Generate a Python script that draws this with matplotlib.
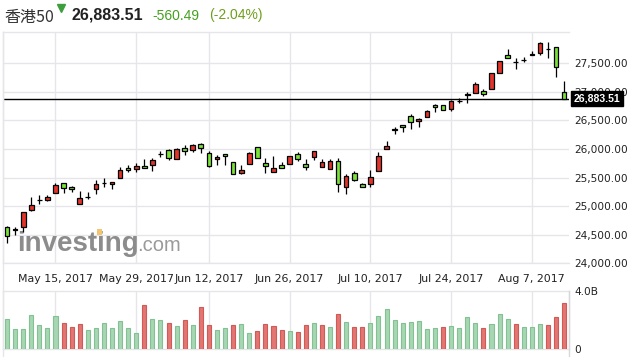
import matplotlib
matplotlib.use("Agg")
import matplotlib.pyplot as plt
import matplotlib.transforms as mtransforms
from matplotlib.lines import Line2D
from matplotlib.patches import Rectangle
from matplotlib.ticker import FuncFormatter

# ---------------- data (HSI daily, 5 May 2017 - 11 Aug 2017) ----------------
opens = [24630, 24590, 24641, 24926, 25100, 25105,
         25226, 25410, 25341, 25034, 25163, 25306, 25400, 25385, 25497, 25666, 25654, 25706,
         25725, 25912, 25976, 25819, 26016, 25976, 26085, 25934, 25819, 25911, 25767, 25586,
         25732, 26028, 25749, 25593, 25715, 25732, 25906, 25732, 25864, 25680, 25645, 25784,
         25343, 25581, 25384, 25384,
         25614, 25997, 26340, 26414, 26571, 26484, 26553,
         26771, 26771, 26702, 26842, 26952, 26985, 27015, 27044,
         27327, 27640, 27524, 27558, 27645, 27675, 27745, 27779, 26992]
highs = [24653, 24630, 24902, 25152, 25204, 25204,
         25400, 25412, 25358, 25266, 25254, 25457, 25487, 25430, 25678, 25718, 25747, 25822,
         25836, 25969, 25998, 26021, 26068, 26085, 26097, 25969, 25889, 25911, 25767, 25720,
         25946, 26028, 25836, 25876, 25767, 25871, 25941, 25824, 25958, 25819, 25819, 25836,
         25563, 25610, 25400, 25628,
         25945, 26141, 26380, 26414, 26611, 26536, 26680,
         26784, 26771, 26864, 26893, 26997, 27177, 27050, 27323,
         27541, 27749, 27593, 27615, 27720, 27876, 27866, 27779, 27190]
lows = [24363, 24502, 24549, 24920, 25030, 25088,
        25226, 25236, 25254, 25034, 25127, 25208, 25330, 25306, 25497, 25601, 25591, 25661,
        25621, 25864, 25812, 25819, 25894, 25941, 25934, 25690, 25720, 25725, 25558, 25569,
        25732, 25836, 25586, 25593, 25663, 25732, 25795, 25638, 25807, 25680, 25645, 25256,
        25210, 25447, 25332, 25343,
        25614, 25997, 26268, 26303, 26355, 26390, 26553,
        26644, 26679, 26672, 26811, 26801, 26975, 26933, 27044,
        27327, 27588, 27407, 27518, 27645, 27645, 27598, 27268, 26883]
closes = [24479, 24596, 24897, 25018, 25105, 25152,
          25370, 25323, 25295, 25139, 25167, 25382, 25408, 25425, 25626, 25639, 25706, 25661,
          25802, 25916, 25847, 25998, 25969, 26068, 26021, 25697, 25859, 25871, 25558, 25628,
          25923, 25836, 25697, 25673, 25663, 25871, 25829, 25680, 25958, 25767, 25784, 25384,
          25529, 25464, 25332, 25511,
          25875, 26049, 26345, 26380, 26467, 26519, 26658,
          26731, 26690, 26836, 26846, 26957, 27137, 26968, 27323,
          27541, 27598, 27528, 27563, 27670, 27854, 27749, 27444, 26883.51]
volumes_b = [2.08, 1.39, 1.39, 2.35, 1.67, 1.46, 2.28, 1.80, 1.53, 1.74,
             1.33, 1.46, 1.80, 1.46, 1.94, 1.46, 1.12, 3.04, 2.08, 2.01,
             1.80, 1.60, 2.01, 1.67, 2.90, 1.67, 1.33, 1.46, 1.67, 1.74,
             1.12, 1.26, 1.74, 1.60, 1.33, 1.26, 1.19, 1.67, 1.80, 1.67,
             1.53, 2.42, 1.87, 1.53, 1.53, 1.80, 2.28, 2.76, 2.01, 1.80,
             1.87, 1.94, 1.39, 1.46, 1.53, 1.60, 1.46, 2.21, 1.80, 1.46,
             1.74, 2.42, 2.08, 1.74, 1.53, 1.53, 1.74, 1.67, 2.21, 3.18]
vol_up = [1, 1, 1, 1, 1, 1, 1, 0, 0, 0,
          1, 1, 1, 1, 1, 1, 1, 0, 1, 1,
          0, 1, 0, 1, 0, 0, 1, 1, 0, 1,
          1, 0, 0, 0, 0, 1, 0, 0, 1, 0,
          1, 0, 1, 0, 0, 1, 1, 1, 1, 1,
          1, 1, 1, 1, 0, 1, 1, 1, 1, 0,
          1, 1, 1, 0, 1, 1, 1, 0, 0, 0]
date_tick_idx = [6, 16, 25, 35, 45, 55, 65]
date_tick_labels = ["May 15, 2017", "May 29, 2017", "Jun 12, 2017", "Jun 26, 2017",
                    "Jul 10, 2017", "Jul 24, 2017", "Aug 7, 2017"]
price_ticks = [24000, 24500, 25000, 25500, 26000, 26500, 27000, 27500]
vol_ticks = [0, 4.0]
vol_tick_labels = ["0", "4.0B"]
last_price = 26883.51
title_name = "香港50"
title_price = "26,883.51"
title_change = "-560.49"
title_pct = "(-2.04%)"

# ---------------- styling ----------------
W, H = 627, 357
RED = "#e3342c"
GREEN = "#7be23a"
VGREEN, VGREEN_E = "#a6d6b2", "#82c292"
VRED, VRED_E = "#e27672", "#d25a56"
GRID = "#e6e6ea"
TXT = "#222222"

def fx(x):
    return x / W

def fy(y):
    return 1 - y / H

fig = plt.figure(figsize=(W / 100, H / 100), dpi=100)
fig.patch.set_facecolor("white")

left_px, right_px = 3, 569
top_px, pbot_px = 31.7, 263.3
vtop_px, vbot_px = 291.0, 349.3

ax = fig.add_axes([fx(left_px), fy(pbot_px), (right_px - left_px) / W, (pbot_px - top_px) / H])
axv = fig.add_axes([fx(left_px), fy(vbot_px), (right_px - left_px) / W, (vbot_px - vtop_px) / H])

n = len(closes)
xs = list(range(n))
xlim = (-0.5, 69.6)

# ---------------- price panel ----------------
ax.set_xlim(*xlim)
ax.set_ylim(24000, 28053)
ax.vlines(xs, lows, highs, color="black", lw=0.9, zorder=3)
body_bottom = [min(o, c) for o, c in zip(opens, closes)]
body_h = [max(abs(c - o), 4) for o, c in zip(opens, closes)]
body_col = [RED if c > o else GREEN for o, c in zip(opens, closes)]
ax.bar(xs, body_h, bottom=body_bottom, width=0.58, color=body_col,
       edgecolor="black", linewidth=0.9, zorder=4)
ax.axhline(last_price, color="black", lw=1.0, zorder=2)

ax.set_yticks(price_ticks)
ax.yaxis.tick_right()
ax.yaxis.set_major_formatter(FuncFormatter(lambda v, p: f"{v:,.2f}"))
ax.tick_params(axis="y", length=0, pad=3.6, labelsize=7.6, labelcolor=TXT)
ax.set_xticks(date_tick_idx)
ax.set_xticklabels(date_tick_labels)
ax.tick_params(axis="x", length=0, pad=8, labelsize=7.9, labelcolor=TXT)
ax.grid(True, color=GRID, lw=1.0, zorder=0)
ax.set_axisbelow(True)
for s in ["left", "top", "bottom"]:
    ax.spines[s].set_color(GRID)
    ax.spines[s].set_linewidth(1.0)
ax.spines["right"].set_visible(False)

# last price tag (covers the 27,000.00 label partly, as in the original)
trans = mtransforms.blended_transform_factory(ax.transAxes, ax.transData)
ax.text(1.0085, last_price, title_price, transform=trans, ha="left", va="center",
        color="white", fontsize=7.6, fontweight="bold", family="Liberation Sans",
        bbox=dict(boxstyle="square,pad=0.22", fc="black", ec="black"), zorder=10, clip_on=False)

# watermark
ax.text((17 - left_px) / (right_px - left_px), 0.055, "investing", transform=ax.transAxes,
        fontsize=20, fontweight="bold", color="#8c8c8c", family="Liberation Sans",
        ha="left", va="baseline", zorder=1)
ax.text((137.5 - left_px) / (right_px - left_px), 0.055, ".com", transform=ax.transAxes,
        fontsize=14.5, color="#9a9a9a", family="Liberation Sans",
        ha="left", va="baseline", zorder=1)
fig.add_artist(Rectangle((fx(96.5), fy(234.5)), 5.5 / W, 5.5 / H, transform=fig.transFigure,
                         facecolor="#f4c56f", edgecolor="none", zorder=2))

# ---------------- volume panel ----------------
axv.set_xlim(*xlim)
axv.set_ylim(0, 4.0)
vcols = [VGREEN if u else VRED for u in vol_up]
vedges = [VGREEN_E if u else VRED_E for u in vol_up]
axv.bar(xs, volumes_b, width=0.5, color=vcols, edgecolor=vedges, linewidth=0.8, zorder=3)
axv.set_xticks(date_tick_idx)
axv.set_xticklabels([])
axv.tick_params(axis="x", length=0)
axv.set_yticks(vol_ticks)
axv.set_yticklabels(vol_tick_labels)
axv.yaxis.tick_right()
axv.tick_params(axis="y", length=0, pad=3.6, labelsize=7.6, labelcolor=TXT)
axv.grid(True, axis="x", color=GRID, lw=1.0, zorder=0)
axv.set_axisbelow(True)
for s in ["left", "top", "bottom", "right"]:
    axv.spines[s].set_color(GRID)
    axv.spines[s].set_linewidth(1.0)

# frame lines between panels / to bottom edge
fig.add_artist(Line2D([fx(left_px), fx(left_px)], [fy(top_px), 0], color=GRID, lw=1.0,
                      transform=fig.transFigure))
fig.add_artist(Line2D([fx(right_px), fx(right_px)], [fy(vtop_px), 0], color="#d8d8dc", lw=1.0,
                      transform=fig.transFigure))

# ---------------- header ----------------
fig.text(fx(4), fy(22), title_name, fontsize=11.5, color="#333333",
         family=["Noto Sans CJK SC", "DejaVu Sans"], ha="left", va="baseline")
fig.add_artist(Line2D([fx(61)], [fy(7.5)], marker="v", markersize=5.5, color="#3e9e3e",
                      transform=fig.transFigure))
fig.text(fx(71), fy(19.5), title_price, fontsize=11.5, fontweight="bold", color="#222222",
         family="Liberation Sans", ha="left", va="baseline")
fig.text(fx(152), fy(19.5), title_change, fontsize=10, color="#45a021",
         family="Liberation Sans", ha="left", va="baseline")
fig.text(fx(209), fy(19.5), title_pct, fontsize=10, color="#6e9f1c",
         family="Liberation Sans", ha="left", va="baseline")

fig.savefig("out.png", dpi=100, facecolor="white")
